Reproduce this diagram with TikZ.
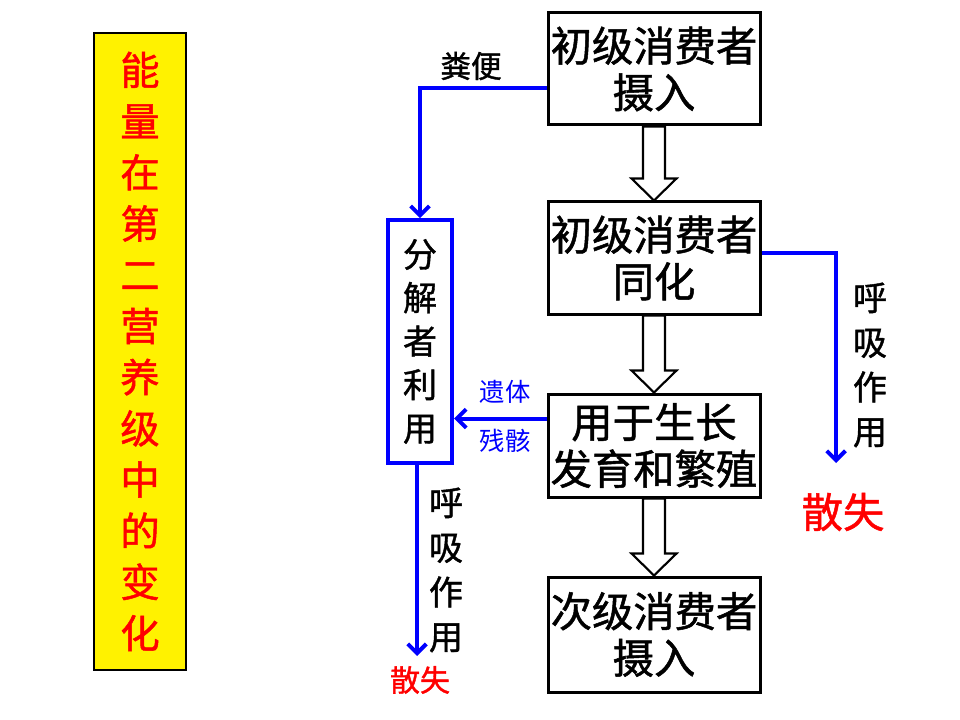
\documentclass[tikz,border=0pt]{standalone}
\usepackage{fontspec}
\newfontfamily\cjk{Noto Sans CJK SC}
\newfontfamily\cjkb{Noto Sans CJK SC}[FakeBold=1.2]
\usetikzlibrary{arrows.meta,calc}
\tikzset{
  mainbox/.style={draw=black, line width=2.25pt, minimum width=159pt, align=center, inner sep=0pt,
     font=\cjkb\fontsize{31}{35}\selectfont},
  decbox/.style={draw=blue, line width=3pt, minimum width=48pt, minimum height=182pt, align=center, inner sep=0pt,
     font=\cjkb\fontsize{25.5}{32.6}\selectfont},
  bluearr/.style={draw=blue, line width=3pt, -{Straight Barb[length=7pt,width=14pt,line width=3pt]}},
  blockarr/.style={draw=black, line width=1.6pt, fill=white, line join=miter},
  vlabel/.style={align=center, inner sep=0pt, font=\cjkb\fontsize{25.5}{33.5}\selectfont},
  smalllab/.style={inner sep=0pt, text=blue, font=\cjk\fontsize{19}{22}\selectfont},
  redlab/.style={inner sep=0pt, text=red, font=\cjkb\fontsize{#1}{#1}\selectfont}
}
\newcommand{\blockarrow}[2]{%
  \draw[blockarr] ($(#1.south)+(-11,0)$) -- ($(#1.south)+(11,0)$) -- ($(#2.north)+(11,-22)$)
    -- ($(#2.north)+(22.5,-22)$) -- (#2.north) -- ($(#2.north)+(-22.5,-22)$)
    -- ($(#2.north)+(-11,-22)$) -- cycle;}
\begin{document}
\begin{tikzpicture}[x=0.75pt,y=-0.75pt]
\useasboundingbox (0,0) rectangle (960,720);
\fill[white] (0,0) rectangle (960,720);
% title
\node[draw=black, line width=1pt, fill=yellow, minimum width=69pt, minimum height=477.5pt, inner sep=0pt,
  align=center, text=red, font=\cjkb\fontsize{29.5}{38.4}\selectfont] (title) at (140,351.5)
  {能\\量\\在\\第\\二\\营\\养\\级\\中\\的\\变\\化};
% main boxes
\node[mainbox, minimum height=84pt] (b1) at (654,69) {初级消费者\\摄入};
\node[mainbox, minimum height=84pt] (b2) at (654,258) {初级消费者\\同化};
\node[mainbox, minimum height=77.25pt] (b3) at (654,445.5) {用于生长\\发育和繁殖};
\node[mainbox, minimum height=86.25pt] (b4) at (654,634.5) {次级消费者\\摄入};
% decomposer
\node[decbox] (dec) at (420,341.5) {分\\解\\者\\利\\用};
% block arrows
\blockarrow{b1}{b2}
\blockarrow{b2}{b3}
\blockarrow{b3}{b4}
% blue connectors
\draw[bluearr] (b1.west) ++(0,19) -| (dec.north);
\coordinate (r1) at (836,463);
\draw[bluearr] (b2.east) ++(0,-5) -| (r1);
\draw[bluearr] (b3.west) ++(0,-27) coordinate (t) -- (t -| dec.east);
\coordinate (d1) at (417,656);
\draw[bluearr] (dec.south -| d1) -- (d1);
% labels
\node[inner sep=0pt, font=\cjkb\fontsize{23}{23}\selectfont] (fb) at (471,66) {粪便};
\node[vlabel] (hx1) at (870,365) {呼\\吸\\作\\用};
\node[redlab=31] (ss1) at (843,512) {散失};
\node[vlabel] (hx2) at (446,570) {呼\\吸\\作\\用};
\node[redlab=22.5] (ss2) at (420,680) {散失};
\node[smalllab] (yt) at (505,392) {遗体};
\node[smalllab] (cg) at (505,441) {残骸};
\end{tikzpicture}
\end{document}
